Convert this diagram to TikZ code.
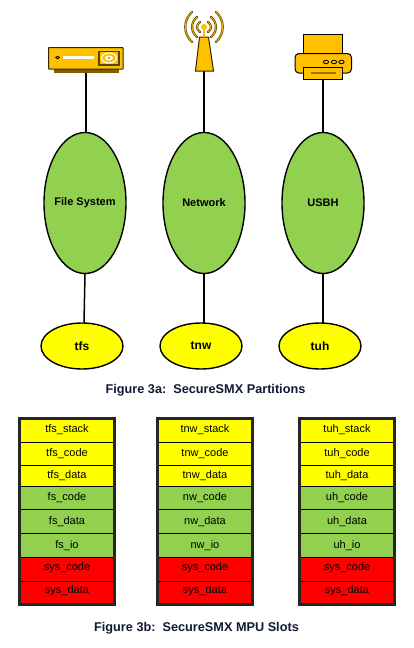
\documentclass[tikz,border=0pt]{standalone}
\usepackage{fontspec}
\setmainfont{Liberation Sans}
\usetikzlibrary{shapes.geometric,calc}
\definecolor{grn}{HTML}{92D050}
\definecolor{ylw}{HTML}{FFFF00}
\definecolor{rd}{HTML}{FF0000}
\definecolor{gold}{HTML}{FFC000}
\definecolor{dgold}{HTML}{7F6000}
\definecolor{cap}{HTML}{0F1A33}
\newcommand{\bigtext}[1]{\makebox[0pt]{\raisebox{-1.5pt}{#1}}}
\tikzset{
 x=1pt,y=-1pt,
 conn/.style={line width=1.5pt,black},
 big/.style={ellipse,draw=black,line width=1.4pt,fill=grn,minimum width=82pt,minimum height=141pt,inner sep=0pt,font=\fontsize{11}{13}\selectfont\bfseries},
 small/.style={ellipse,draw=black,line width=1.4pt,fill=ylw,minimum width=82pt,minimum height=46pt,inner sep=0pt,font=\fontsize{12}{14}\selectfont\bfseries},
 caption/.style={font=\fontsize{12.7}{15}\selectfont\bfseries,text=cap,inner sep=0pt},
 cellt/.style={font=\fontsize{11}{13}\selectfont,text=black,inner sep=0pt,anchor=center},
 ico/.style={draw=black!80!gold,line width=1pt,fill=gold},
 waved/.style={draw=dgold!80!black,line width=2.2pt,line cap=round},
 wavel/.style={draw=gold,line width=0.7pt,line cap=round},
 frameb/.style={draw=black!85,line width=2.2pt},
 rowline/.style={draw=black,line width=0.9pt},
}
\newcommand{\slottable}[5]{%
 \pgfmathsetmacro{\xl}{#1+0.5}
 \pgfmathsetmacro{\xr}{#1+95.5}
 \pgfmathsetmacro{\xc}{#1+48}
 \fill[ylw] (\xl,418) rectangle (\xr,486);
 \fill[grn] (\xl,486) rectangle (\xr,557);
 \fill[rd] (\xl,557) rectangle (\xr,604);
 \foreach \yy in {442,465,486,509,533,557,581}{\draw[rowline] (\xl,\yy) -- (\xr,\yy);}
 \draw[frameb] (\xl,418.5) rectangle (\xr,604.5);
 \node[cellt] (#2a) at (\xc,430) {#3\_stack};
 \node[cellt] (#2b) at (\xc,454) {#3\_code};
 \node[cellt] (#2c) at (\xc,476) {#3\_data};
 \node[cellt] (#2d) at (\xc,498) {#4\_code};
 \node[cellt] (#2e) at (\xc,522) {#4\_data};
 \node[cellt] (#2f) at (\xc,546) {#5\_io};
 \node[cellt] (#2g) at (\xc,568) {sys\_code};
 \node[cellt] (#2h) at (\xc,591) {sys\_data};
}
\begin{document}
\begin{tikzpicture}
\useasboundingbox (0,0) rectangle (414,648);
\fill[white] (0,0) rectangle (414,648);

\coordinate (dvd) at (86,72);
\coordinate (ant) at (204,71);
\coordinate (prn) at (323,79);

\node[big] (fs) at (85,203) {\bigtext{File System}};
\node[big] (nw) at (204,203) {\bigtext{Network}};
\node[big] (usb) at (323,203) {\bigtext{USBH}};
\node[small] (tfs) at (82,346) {tfs};
\node[small] (tnw) at (201,346) {tnw};
\node[small] (tuh) at (320,346) {tuh};
\coordinate (tfstop) at ($(tfs.north)+(2,0.3)$);
\coordinate (tnwtop) at ($(tnw.north)+(3,0.3)$);
\coordinate (tuhtop) at ($(tuh.north)+(3,0.3)$);

\draw[conn] (dvd) -- (dvd |- fs.north);
\draw[conn] (ant) -- (ant |- nw.north);
\draw[conn] (prn) -- (prn |- usb.north);
\draw[conn] (fs.south) -- (tfstop);
\draw[conn] (nw.south) -- (tnwtop);
\draw[conn] (usb.south) -- (tuhtop);

% disc player
\fill[dgold] (54,69) rectangle (119,72.5);
\draw[ico,rounded corners=0.5pt] (48.5,47.5) rectangle (123,69);
\fill[white] (62.5,56) rectangle (94,59);
\draw[black,line width=0.8pt] (57.5,57.5) ellipse (1.8 and 1.2);
\draw[dgold!70!black,line width=1.2pt,fill=gold] (99,51.5) rectangle (119,65);
\draw[white,line width=1.1pt] (109,58) ellipse (7.5 and 5);
\fill[white] (109,58) ellipse (4 and 2.5);
\fill[dgold] (109,58) ellipse (1.2 and .8);

% antenna
\draw[ico] (199.5,37) -- (208.5,37) -- (213.5,71) -- (195.5,71) -- cycle;
\draw[gold,line width=1.2pt] (204,27) -- (204,37);
\fill[gold] (204,27) circle (3);
\foreach \t/\b/\h in {4/8/5,7/13.5/10,12/21/15}{
 \foreach \st in {waved,wavel}{
  \draw[\st] (204-\t,27-\h) .. controls (204-\b,27-\h*0.45) and (204-\b,27+\h*0.45) .. (204-\t,27+\h);
  \draw[\st] (204+\t,27-\h) .. controls (204+\b,27-\h*0.45) and (204+\b,27+\h*0.45) .. (204+\t,27+\h);
 }
}

% printer
\draw[ico,draw=black] (303.5,34) rectangle (342.5,54);
\draw[ico,draw=black,rounded corners=4pt] (295,73) -- (295,53.5) -- (351.5,53.5) -- (351.5,73) -- cycle;
\foreach \px in {326,334,341.5}{\draw[black,line width=.8pt] (\px,62) ellipse (2.6 and 1.8);}
\draw[ico,draw=black] (303.5,67.5) rectangle (342.5,79);
\fill[dgold!80!gold] (311,72) rectangle (336,74);

\node[caption] (cap1) at (205.5,390) {Figure 3a:\ \ SecureSMX Partitions};

\slottable{19}{p}{tfs}{fs}{fs}
\slottable{157}{q}{tnw}{nw}{nw}
\slottable{299}{r}{tuh}{uh}{uh}

\node[caption] (cap2) at (196.5,628) {Figure 3b:\ \ SecureSMX MPU Slots};
\end{tikzpicture}
\end{document}
